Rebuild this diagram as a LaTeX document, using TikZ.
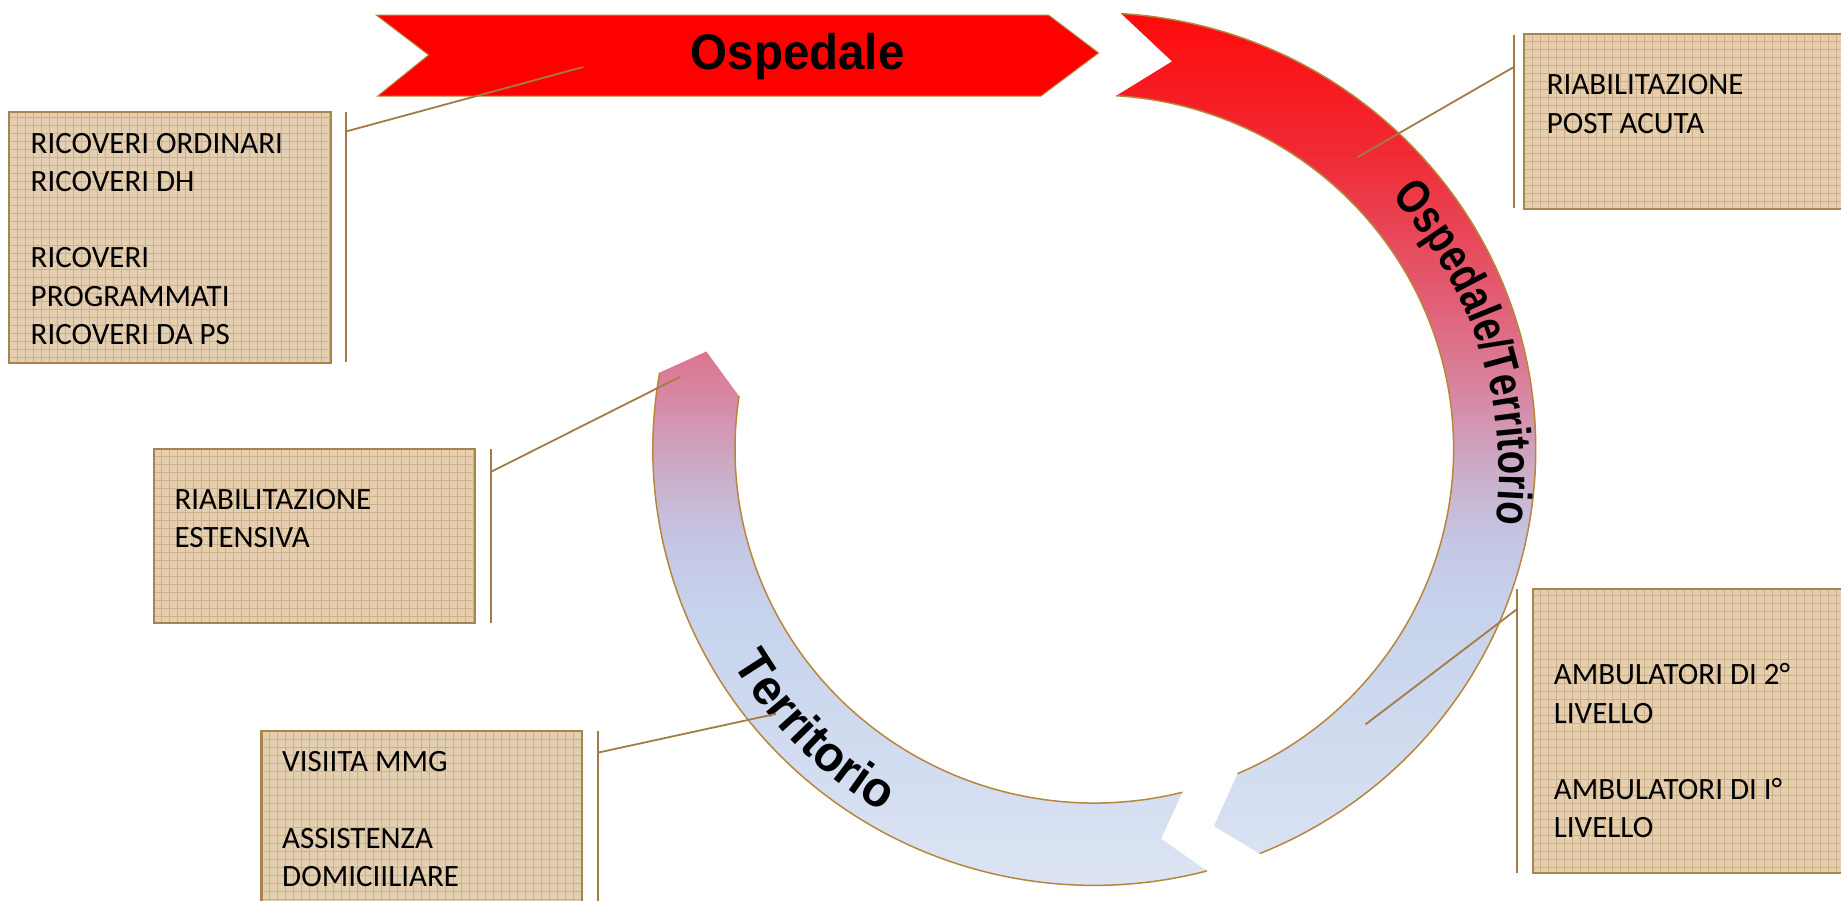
\documentclass[tikz,border=0pt]{standalone}
\usepackage{fontspec}
\usetikzlibrary{decorations.text,fit}

\newfontfamily\boxfont{Carlito}
\newfontfamily\titlefont[FakeStretch=0.95]{Liberation Sans}
\newfontfamily\ospterfont[FakeStretch=0.8]{Liberation Sans}
\newfontfamily\terrfont[FakeStretch=0.96]{Liberation Sans}

\definecolor{bannerred}{HTML}{FF0000}
\definecolor{rimgold}{HTML}{B8863B}
\definecolor{linkbrown}{HTML}{A47B46}
\definecolor{boxedge}{HTML}{A88450}
\definecolor{boxfill}{HTML}{E4CFB0}
\definecolor{boxgrid}{HTML}{D0AF80}
% vertical colour ramp of the ring, bottom to top
\definecolor{rg0}{HTML}{DCE4F3}
\definecolor{rg1}{HTML}{C6D3EC}
\definecolor{rg2}{HTML}{C4C6E4}
\definecolor{rg3}{HTML}{CBADC8}
\definecolor{rg4}{HTML}{D884A0}
\definecolor{rg5}{HTML}{E25C72}
\definecolor{rg6}{HTML}{F02A34}
\definecolor{rg7}{HTML}{FF0A0A}

\pgfdeclareverticalshading{ringgrad}{100bp}{color(0bp)=(rg0); color(25bp)=(rg0);
  color(40.7bp)=(rg1); color(44.8bp)=(rg2); color(48.8bp)=(rg3); color(53.5bp)=(rg4);
  color(58.9bp)=(rg5); color(67bp)=(rg6); color(75bp)=(rg7); color(100bp)=(rg7)}

% stacked left-aligned lines whose first baseline is the box baseline
\newcommand\linesstack[1]{\vtop{\baselineskip=38.2pt\lineskiplimit=-100pt\lineskip=0pt
  \halign{##\hfil\cr#1\crcr}}}

\tikzset{
  infobox/.style={draw=boxedge, line width=2.2pt, fill=boxfill, inner sep=0pt,
    path picture={\draw[boxgrid, line width=0.7pt]
      (path picture bounding box.south west) grid[step=8pt]
      (path picture bounding box.north east);}},
  boxtext/.style={anchor=base west, inner sep=0pt,
    font=\boxfont\fontsize{31pt}{38pt}\selectfont},
  bracket/.style={draw=linkbrown, line width=2pt},
  link/.style={draw=linkbrown, line width=1.8pt},
  rim/.style={draw=rimgold, line width=1.5pt},
}

\begin{document}
\begin{tikzpicture}[x=1.1741pt, y=1.1741pt]
\useasboundingbox (0,0) rectangle (1568,767);
\fill[white] (0,0) rectangle (1568,767);

% ---- ring of two arrows ----
\begin{scope}[shift={(932,384.5)}]
  \begin{scope}
    \clip
      (86.5:441.46pt and 436.30pt)
        arc[start angle=86.5, end angle=-68, x radius=441.46pt, y radius=436.30pt]
        -- (-72.6:400.37pt and 395.20pt)
        -- (-66.5:359.27pt and 353.99pt)
        arc[start angle=-66.5, end angle=86.5, x radius=359.27pt, y radius=353.99pt]
        -- (78.8:400.37pt and 395.20pt) -- cycle
      (-75.2:441.46pt and 436.30pt)
        arc[start angle=-75.2, end angle=-190.1, x radius=441.46pt, y radius=436.30pt]
        -- (-194.3:400.37pt and 395.20pt)
        -- (-188.6:359.27pt and 353.99pt)
        arc[start angle=-188.6, end angle=-75.8, x radius=359.27pt, y radius=353.99pt]
        -- (-80.4:400.37pt and 395.20pt) -- cycle;
    \shade[shading=ringgrad] (-390,-371.5) rectangle (390,371.5);
  \end{scope}
  \draw[rim] (86.5:441.46pt and 436.30pt)
    arc[start angle=86.5, end angle=-68, x radius=441.46pt, y radius=436.30pt];
  \draw[rim] (-66.5:359.27pt and 353.99pt)
    arc[start angle=-66.5, end angle=86.5, x radius=359.27pt, y radius=353.99pt];
  \draw[rim] (-75.2:441.46pt and 436.30pt)
    arc[start angle=-75.2, end angle=-190.1, x radius=441.46pt, y radius=436.30pt];
  \draw[rim] (-188.6:359.27pt and 353.99pt)
    arc[start angle=-188.6, end angle=-75.8, x radius=359.27pt, y radius=353.99pt];

  % lower-left label, read along the ring
  \path[decorate, decoration={text along path, text align=center,
      text={|\terrfont\bfseries\fontsize{50pt}{50pt}\selectfont|Territorio}}]
    (185:420.33pt) arc[start angle=185, end angle=265.4, radius=420.33pt];
\end{scope}

% right-hand label, read downwards along the ring
\begin{scope}[shift={(932,364.5)}]
  \path[decorate, decoration={text along path, text align=center,
      text={|\ospterfont\bfseries\fontsize{48pt}{48pt}\selectfont|Ospedale/Territorio}}]
    (60:405pt) arc[start angle=60, end angle=-24.4, radius=405pt];
\end{scope}

% ---- top banner ----
\filldraw[fill=bannerred, draw=rimgold, line width=1pt]
  (320.4,754.2) -- (893,754.2) -- (935.7,721.9) -- (886.6,685.2)
  -- (321.7,685.2) -- (365.1,720.2) -- cycle;
\node[anchor=base, inner sep=0pt, font=\titlefont\bfseries\fontsize{50pt}{50pt}\selectfont]
  (ospedale) at (679.3,707.4) {Ospedale};

% ---- information boxes ----
\node[infobox, fit={(8,671.5) (282,458)}] (ricBox) {};
\node[infobox, fit={(1298,737.7) (1600,589)}] (postBox) {};
\node[infobox, fit={(131,384.6) (404.6,236.3)}] (estBox) {};
\node[infobox, fit={(222.7,144.7) (496,-20)}] (mmgBox) {};
\node[infobox, fit={(1305.4,265.3) (1600,23.3)}] (ambBox) {};

\node[boxtext] (ricText) at (26,636.5)
  {\linesstack{RICOVERI ORDINARI\cr RICOVERI DH\cr\cr RICOVERI\cr PROGRAMMATI\cr RICOVERI DA PS}};
\node[boxtext] (postText) at (1317.3,686.1)
  {\linesstack{RIABILITAZIONE\cr POST ACUTA}};
\node[boxtext] (estText) at (148.5,333.2)
  {\linesstack{RIABILITAZIONE\cr ESTENSIVA}};
\node[boxtext] (mmgText) at (240.2,109.8)
  {\linesstack{VISIITA MMG\cr\cr ASSISTENZA\cr DOMICIILIARE}};
\node[boxtext] (ambText) at (1323.3,183.6)
  {\linesstack{AMBULATORI DI 2°\cr LIVELLO\cr\cr AMBULATORI DI I°\cr LIVELLO}};

% ---- brackets beside the boxes ----
\draw[bracket] (294.7,671.5) -- (294.7,458.5);
\draw[bracket] (1289.5,737.5) -- (1289.5,590);
\draw[bracket] (418,384.6) -- (418,236.4);
\draw[bracket] (509.5,144) -- (509.5,-10);
\draw[bracket] (1291.8,265.3) -- (1291.8,23.7);

% ---- leader lines ----
\coordinate (ricTap) at (294.7,655);
\coordinate (ricPin) at (497,710);
\coordinate (postTap) at (1289.5,710);
\coordinate (postPin) at (1156,633);
\coordinate (estTap) at (418,365);
\coordinate (estPin) at (579,446);
\coordinate (mmgTap) at (509.5,126);
\coordinate (mmgPin) at (661,159);
\coordinate (ambTap) at (1291.8,248);
\coordinate (ambPin) at (1163,150);

\draw[link] (ricTap) -- (ricPin);
\draw[link] (postTap) -- (postPin);
\draw[link] (estTap) -- (estPin);
\draw[link] (mmgTap) -- (mmgPin);
\draw[link] (ambTap) -- (ambPin);
\end{tikzpicture}
\end{document}
